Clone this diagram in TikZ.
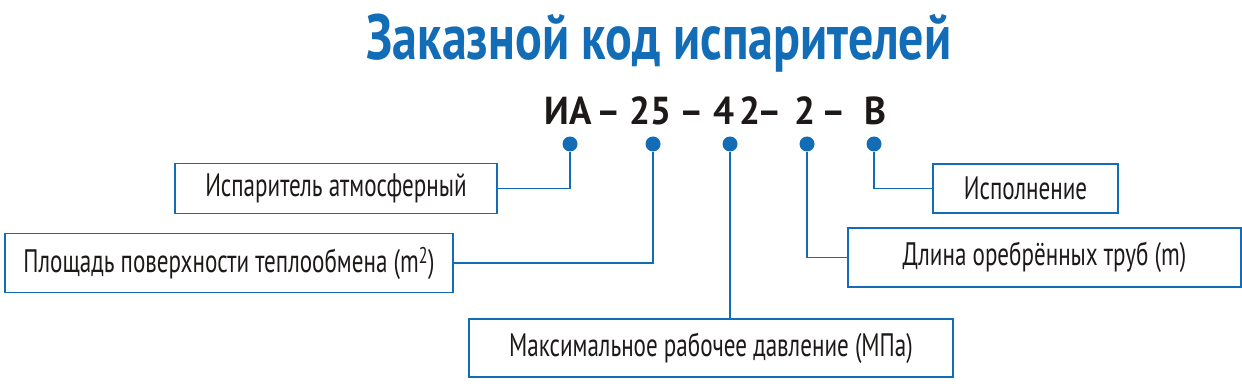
\documentclass[tikz,border=0pt]{standalone}
\usepackage{fontspec}
\setmainfont{PT Sans}[FakeStretch=0.71]
\newfontfamily\titlefont{PT Sans}[FakeStretch=0.78]
\newfontfamily\codefont{PT Sans}[FakeStretch=0.95]
\usetikzlibrary{positioning}
\definecolor{codeblue}{RGB}{18,108,182}
\definecolor{textdark}{RGB}{30,25,25}

\begin{document}
\begin{tikzpicture}[
    x=1pt, y=-1pt,
    font=\fontsize{32.5}{38}\selectfont,
    box/.style={draw=codeblue, line width=1.3pt, inner sep=0pt, text=textdark},
    part/.style={font=\codefont\bfseries\fontsize{39}{44}\selectfont, inner sep=0pt, anchor=base, text=textdark},
    dot/.style={circle, fill=codeblue, inner sep=0pt, minimum size=15pt},
    link/.style={draw=codeblue, line width=1.3pt}
  ]
    \useasboundingbox (0,0) rectangle (1242,390);
    \node[font=\titlefont\bfseries\fontsize{64}{70}\selectfont, text=codeblue, anchor=base] (title) at (659,60) {Заказной код испарителей};

    % code parts
    \node[part] (ia) at (568,125) {ИА};
    \node[part] (d1) at (609,125) {–};
    \node[part] (p25) at (650,125) {25};
    \node[part] (d2) at (692,125) {–};
    \node[part] (p4) at (724,125) {4};
    \node[part] (p2a) at (750,125) {2};
    \node[part] (d3) at (770,125) {–};
    \node[part] (p2b) at (805,125) {2};
    \node[part] (d4) at (834,125) {–};
    \node[part] (pb) at (875,125) {В};

    \node[dot] (dotia) at (570,144) {};
    \node[dot] (dot25) at (653,144) {};
    \node[dot] (dot4) at (730,144) {};
    \node[dot] (dot2) at (807,144) {};
    \node[dot] (dotb) at (874,144) {};

    % boxes
    \node[box, minimum width=322pt, minimum height=50pt] (evap) at (336,188.5) {Испаритель атмосферный};
    \node[box, minimum width=448pt, minimum height=59pt] (area) at (229,263) {Площадь поверхности теплообмена (m\textsuperscript{2})};
    \node[box, minimum width=185pt, minimum height=49pt] (exec) at (1025.5,188.5) {Исполнение};
    \node[box, minimum width=393pt, minimum height=59pt] (tube) at (1044.5,257.5) {Длина оребрённых труб (m)};
    \node[box, minimum width=484pt, minimum height=58pt] (press) at (711,348) {Максимальное рабочее давление (МПа)};

    \draw[link] (evap.east) -| (dotia);
    \draw[link] (area.east) -| (dot25);
    \draw[link] (dot4) -- (dot4 |- press.north);
    \draw[link] (tube.west) -| (dot2);
    \draw[link] (exec.west) -| (dotb);
  \end{tikzpicture}
\end{document}
